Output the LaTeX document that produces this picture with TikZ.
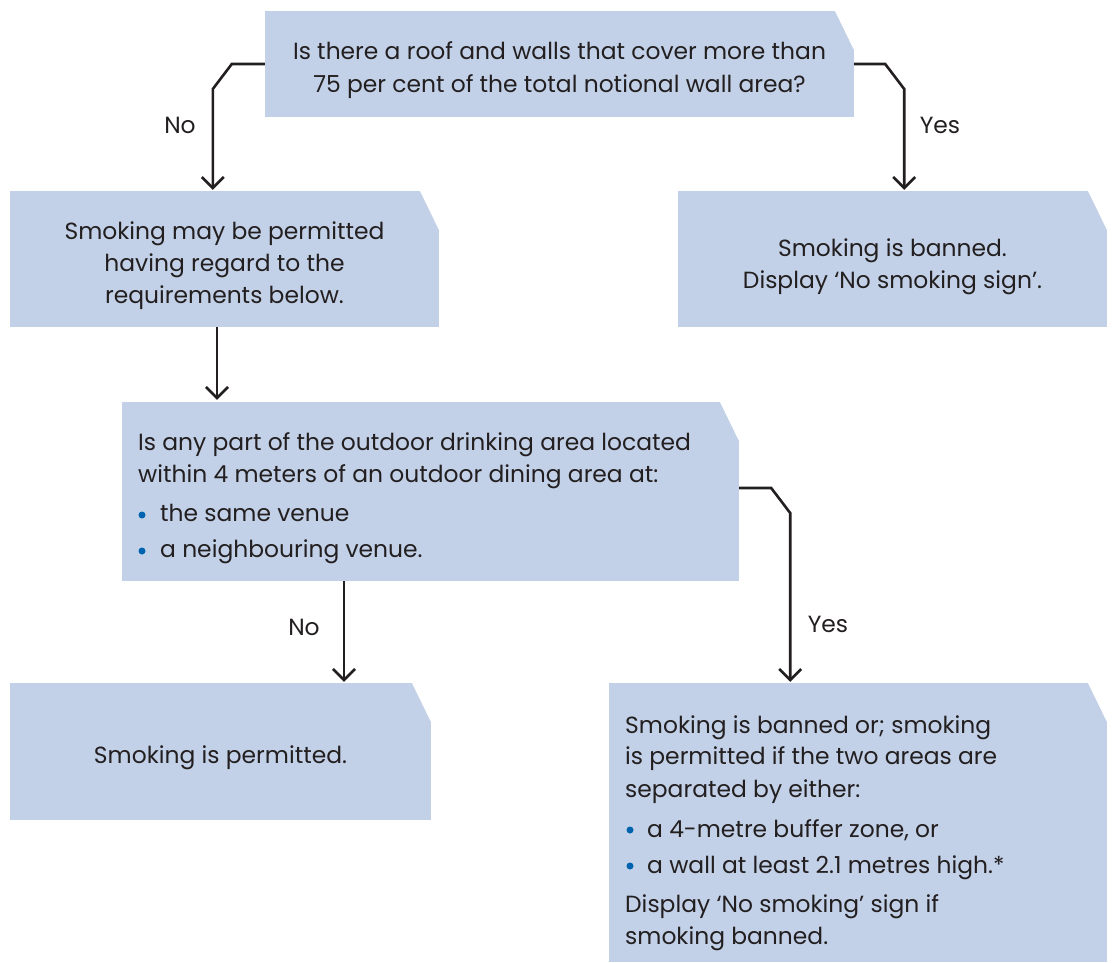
\documentclass[tikz,border=0pt]{standalone}
\usepackage{fontspec}
\setmainfont{Poppins}
\usetikzlibrary{arrows.meta}
\definecolor{boxfill}{RGB}{194,209,231}
\definecolor{ink}{RGB}{35,31,32}
\definecolor{bulletblue}{RGB}{0,99,175}
\begin{document}
\begin{tikzpicture}[x=1pt,y=-1pt,
  flowbox/.style={rectangle, inner sep=0pt, fill=boxfill,
    path picture={\fill[white] (path picture bounding box.north east) -- ++(-19,0) -- ++(19,39) -- cycle;}},
  txt/.style={font=\fontsize{23.4}{28}\selectfont, text=ink, inner sep=0pt, anchor=base},
  ltxt/.style={txt, anchor=base west},
  conn/.style={draw=ink, line width=2.6pt, -{Straight Barb[length=11pt,width=22pt,line width=2.6pt]}},
  bul/.style={fill=bulletblue}
]
\useasboundingbox (0,0) rectangle (1112,962);
% boxes
\node[flowbox, minimum width=589pt, minimum height=106pt] (q1) at (559.5,64) {};
\node[flowbox, minimum width=429pt, minimum height=136pt] (r1) at (224.5,259) {};
\node[flowbox, minimum width=429pt, minimum height=136pt] (r2) at (892.5,259) {};
\node[flowbox, minimum width=617pt, minimum height=179pt] (q2) at (430.5,491.5) {};
\node[flowbox, minimum width=421pt, minimum height=137pt] (r3) at (220.5,751.5) {};
\node[flowbox, minimum width=498pt, minimum height=279pt] (r4) at (858,822.5) {};
% texts
\node[txt] (q1a) at (559.5,59) {Is there a roof and walls that cover more than};
\node[txt] (q1b) at (559.5,92) {75 per cent of the total notional wall area?};
\node[txt] (r1a) at (224.5,239) {Smoking may be permitted};
\node[txt] (r1b) at (224.5,271) {having regard to the};
\node[txt] (r1c) at (224.5,303) {requirements below.};
\node[txt] (r2a) at (892.5,256) {Smoking is banned.};
\node[txt] (r2b) at (892.5,288) {Display ‘No smoking sign’.};
\node[ltxt] (q2a) at (138,450) {Is any part of the outdoor drinking area located};
\node[ltxt] (q2b) at (138,482) {within 4 meters of an outdoor dining area at:};
\fill[bul] (142,515) circle (3.5);
\node[ltxt] (q2c) at (160,521) {the same venue};
\fill[bul] (142,551) circle (3.5);
\node[ltxt] (q2d) at (160,557) {a neighbouring venue.};
\node[txt] (r3a) at (220.5,763) {Smoking is permitted.};
\node[ltxt] (r4a) at (625,733) {Smoking is banned or; smoking};
\node[ltxt] (r4b) at (625,764) {is permitted if the two areas are};
\node[ltxt] (r4c) at (625,797) {separated by either:};
\fill[bul] (630,830) circle (3.5);
\node[ltxt] (r4d) at (647,837) {a 4-metre buffer zone, or};
\fill[bul] (630,866) circle (3.5);
\node[ltxt] (r4e) at (647,873) {a wall at least 2.1 metres high.*};
\node[ltxt] (r4f) at (625,912) {Display ‘No smoking’ sign if};
\node[ltxt] (r4g) at (625,944) {smoking banned.};
% labels
\node[txt] (l1) at (180,133) {No};
\node[txt] (l2) at (940,133) {Yes};
\node[txt] (l3) at (304,635) {No};
\node[txt] (l4) at (828,632) {Yes};
% connectors
\draw[conn] (q1.west) -- ++(-33,0) -- ++(-19,25) coordinate (c1) -- ([yshift=1pt]c1 |- r1.north);
\draw[conn] (q1.east) -- ++(31,0) -- ++(19,25) coordinate (c2) -- ([yshift=1pt]c2 |- r2.north);
\draw[conn] (r1.south -| 217,0) -- ([yshift=2pt]217,0 |- q2.north);
\draw[conn] (q2.east |- 0,488) -- ++(32,0) -- ++(19,25) coordinate (c3) -- ([yshift=1pt]c3 |- r4.north);
\draw[conn] (q2.south -| 344,0) -- ([yshift=1pt]344,0 |- r3.north);
\end{tikzpicture}
\end{document}
